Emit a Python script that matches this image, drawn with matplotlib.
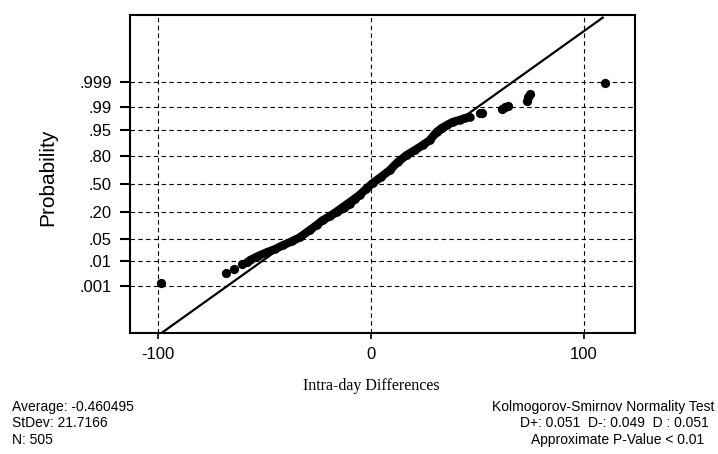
import matplotlib
matplotlib.use("Agg")
import matplotlib.pyplot as plt
from statistics import NormalDist

plt.rcParams.update({
    "font.family": "Liberation Sans",
    "axes.linewidth": 1.5,
    "xtick.labelsize": 12,
    "ytick.labelsize": 12,
})

# sorted differences and their plotting probabilities
tail_lo_x = [-98.6, -68.1, -64.3, -60.6, -58.2]
tail_lo_p = [0.00135, 0.0035, 0.0054, 0.0078, 0.0091]

band_x = [-56.8, -53.1, -48.8, -45.1, -41.3, -37.1, -33.3, -28.6, -25.4, -22.5,
          -19.2, -16.0, -12.7, -9.9, -7.5, -5.2, -2.3, 0.9, 4.7, 8.9,
          12.7, 16.9, 20.7, 24.4, 27.7, 31.0, 33.3, 35.7, 38.5, 41.8,
          44.1, 46.5]
band_p = [0.0107, 0.0146, 0.0197, 0.0244, 0.0322, 0.0418, 0.0537, 0.0823, 0.1075, 0.138,
          0.166, 0.198, 0.233, 0.271, 0.326, 0.371, 0.440, 0.512, 0.583, 0.663,
          0.748, 0.811, 0.848, 0.881, 0.908, 0.943, 0.955, 0.963, 0.970, 0.974,
          0.977, 0.979]

tail_hi_x = [51.2, 52.1, 61.5, 62.9, 64.3, 73.2, 73.7, 74.6, 109.9]
tail_hi_p = [0.984, 0.985, 0.989, 0.990, 0.991, 0.994, 0.9959, 0.9968, 0.9989]

mean, stdev, n = -0.460495, 21.7166, 505
fit_x = [-97.5, 109.0]

tick_probs = [0.001, 0.01, 0.05, 0.20, 0.50, 0.80, 0.95, 0.99, 0.999]
tick_labels = [".001", ".01", ".05", ".20", ".50", ".80", ".95", ".99", ".999"]
x_ticks = [-100, 0, 100]

nd = NormalDist()


def z(ps):
    return [nd.inv_cdf(p) for p in ps]


fig = plt.figure(figsize=(7.18, 4.54), dpi=100)
ax = fig.add_axes([0.181, 0.2665, 0.703, 0.7005])

# fitted normal line
ax.plot(fit_x, [(v - mean) / stdev for v in fit_x], color="black", lw=1.6, zorder=3)

# dense body of points
ax.plot(band_x, z(band_p), color="black", lw=6, solid_capstyle="round",
        solid_joinstyle="round", zorder=4)
ax.scatter(band_x, z(band_p), s=26, color="black", zorder=4)
ax.scatter(tail_lo_x + tail_hi_x, z(tail_lo_p + tail_hi_p), s=32,
           color="black", zorder=4)

ax.set_xlim(-113, 124)
ax.set_ylim(-4.5, 5.12)
ax.set_xticks(x_ticks)
ax.set_xticklabels([str(t) for t in x_ticks])
ax.set_yticks(z(tick_probs))
ax.set_yticklabels(tick_labels)
ax.tick_params(axis="y", direction="out", length=7, width=1.5, pad=6)
ax.tick_params(axis="x", direction="out", length=4, width=1.2, pad=6)

ax.grid(True, color="black", linestyle=(0, (4, 3)), linewidth=0.8)
ax.set_axisbelow(True)

ax.set_ylabel("Probability", fontsize=15, va="center")
ax.yaxis.set_label_coords(-0.162, 0.49)
ax.set_xlabel("Intra-day Differences", family="Liberation Serif", fontsize=11.5, va="center")
ax.xaxis.set_label_coords(0.479, -0.167)

fig.text(0.017, 0.1035, "Average: %.6f" % mean, fontsize=10, va="center")
fig.text(0.017, 0.068, "StDev: %.4f" % stdev, fontsize=10, va="center")
fig.text(0.017, 0.031, "N: %d" % n, fontsize=10, va="center")

fig.text(0.840, 0.1035, "Kolmogorov-Smirnov Normality Test", fontsize=10, ha="center", va="center")
fig.text(0.856, 0.068, "D+: 0.051  D-: 0.049  D : 0.051", fontsize=10, ha="center", va="center")
fig.text(0.860, 0.031, "Approximate P-Value < 0.01", fontsize=10, ha="center", va="center")

fig.savefig("out.png", dpi=100)
